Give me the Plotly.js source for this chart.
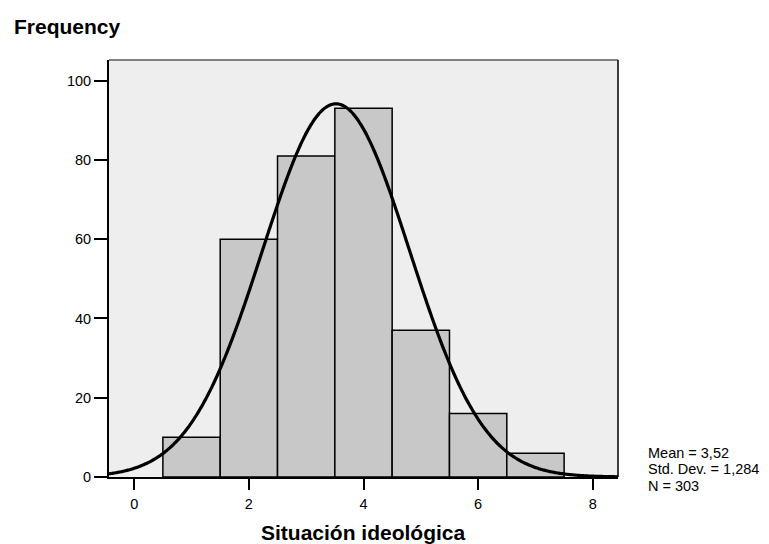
<!DOCTYPE html>
<html>
<head>
<meta charset="utf-8">
<script src="https://cdn.plot.ly/plotly-3.0.1.min.js"></script>
<style>html,body{margin:0;padding:0;background:#fff;}#chart{width:769px;height:544px;}</style>
</head>
<body>
<div id="chart"></div>
<script>
// Histogram data: ideological position (bin centers) and frequencies
const binCenters = [1, 2, 3, 4, 5, 6, 7];
const frequencies = [10, 60, 81, 93, 37, 16, 6];
const xTickVals = [0, 2, 4, 6, 8];
const yTickVals = [0, 20, 40, 60, 80, 100];
// Summary statistics shown on the chart
const MEAN = 3.52;
const SD = 1.284;
const N = 303;
const BIN_WIDTH = 1;
const statLabels = ["Mean = 3,52", "Std. Dev. = 1,284", "N = 303"];

// Fitted normal curve, as the stats software draws it (N * bin width * normal pdf)
const curveX = [];
const curveY = [];
for (let i = 0; i <= 300; i++) {
  const x = -0.5 + i * (9.0 / 300);
  curveX.push(x);
  curveY.push(N * BIN_WIDTH / (SD * Math.sqrt(2 * Math.PI)) * Math.exp(-0.5 * Math.pow((x - MEAN) / SD, 2)));
}

const font = "Liberation Sans, Arial, sans-serif";

const traces = [
  {
    type: "bar",
    x: binCenters,
    y: frequencies,
    width: BIN_WIDTH,
    marker: {color: "#c8c8c8", line: {color: "#000", width: 1.5}},
    hoverinfo: "skip"
  },
  {
    type: "scatter",
    mode: "lines",
    x: curveX,
    y: curveY,
    line: {color: "#000", width: 3.2, shape: "spline"},
    hoverinfo: "skip"
  }
];

const statShifts = [24.5, 8, -8.5];
const annotations = [
  {text: "<b>Frequency</b>", xref: "paper", yref: "paper", x: -0.1906, y: 1.0, xanchor: "left", yanchor: "middle", yshift: 34, showarrow: false, font: {size: 21, family: font}},
  {text: "<b>Situación ideológica</b>", xref: "paper", yref: "paper", x: 0.5, y: 0, xanchor: "center", yanchor: "middle", yshift: -55, showarrow: false, font: {size: 21, family: font}}
];
statLabels.forEach((t, i) => {
  annotations.push({text: t, xref: "paper", yref: "paper", x: 1, y: 0, xanchor: "left", yanchor: "middle", xshift: 28, yshift: statShifts[i], align: "left", showarrow: false, font: {size: 14.5, family: font}});
});

const layout = {
  width: 769,
  height: 544,
  margin: {l: 109, r: 151, t: 60, b: 67},
  paper_bgcolor: "#ffffff",
  plot_bgcolor: "#eeeeee",
  showlegend: false,
  bargap: 0,
  font: {family: font, color: "#000", size: 14},
  xaxis: {
    range: [-0.44, 8.44],
    tickvals: xTickVals,
    ticktext: xTickVals.map(String),
    ticks: "outside",
    ticklen: 11,
    tickwidth: 2,
    tickcolor: "#000",
    ticklabelstandoff: 2,
    showgrid: false,
    zeroline: false,
    showline: true,
    linecolor: "#000",
    linewidth: 2,
    tickfont: {size: 14.5, family: font}
  },
  yaxis: {
    range: [0, 105.2],
    tickvals: yTickVals,
    ticktext: yTickVals.map(String),
    ticks: "outside",
    ticklen: 13,
    tickwidth: 2,
    tickcolor: "#000",
    showgrid: false,
    zeroline: false,
    showline: true,
    linecolor: "#000",
    linewidth: 2,
    tickfont: {size: 14.5, family: font}
  },
  shapes: [
    {type: "line", xref: "paper", yref: "paper", x0: 0, x1: 1, y0: 1, y1: 1, line: {color: "#808080", width: 2}},
    {type: "line", xref: "paper", yref: "paper", x0: 1, x1: 1, y0: 0, y1: 1, line: {color: "#000", width: 1.5}}
  ],
  annotations: annotations
};

Plotly.newPlot("chart", traces, layout, {displayModeBar: false, staticPlot: true});
</script>
</body>
</html>
